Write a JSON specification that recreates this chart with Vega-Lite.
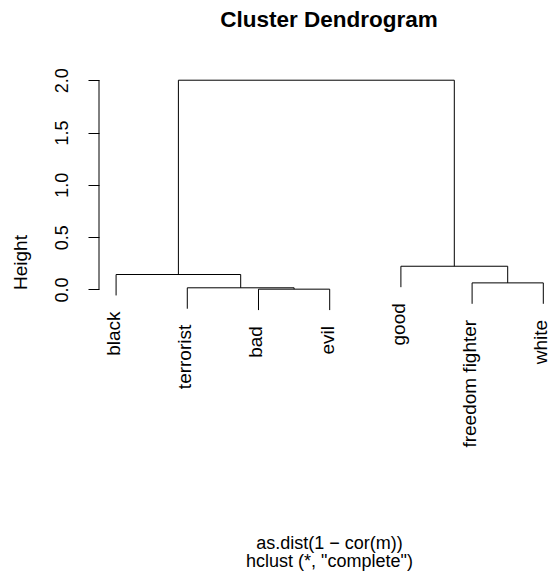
{
  "$schema": "https://vega.github.io/schema/vega-lite/v6.json",
  "autosize": {"type": "none"},
  "padding": {"left": 99, "top": 71, "right": 0, "bottom": 92},
  "width": 450,
  "height": 411,
  "background": "white",
  "config": {
    "view": {"stroke": null},
    "font": "Liberation Sans",
    "title": {"font": "Liberation Sans", "fontSize": 22.5, "fontWeight": "bold", "color": "black"}
  },
  "title": {"text": "Cluster Dendrogram", "anchor": "middle", "dx": 5, "baseline": "alphabetic", "offset": 18},
  "datasets": {
    "segments": [
      {"x": 3, "x2": 4, "y": 0.003, "y2": 0.003},
      {"x": 3, "x2": 3, "y": -0.197, "y2": 0.003},
      {"x": 4, "x2": 4, "y": -0.197, "y2": 0.003},
      {"x": 2, "x2": 3.5, "y": 0.016, "y2": 0.016},
      {"x": 2, "x2": 2, "y": -0.184, "y2": 0.016},
      {"x": 3.5, "x2": 3.5, "y": 0.003, "y2": 0.016},
      {"x": 1, "x2": 2.75, "y": 0.143, "y2": 0.143},
      {"x": 1, "x2": 1, "y": -0.057, "y2": 0.143},
      {"x": 2.75, "x2": 2.75, "y": 0.016, "y2": 0.143},
      {"x": 6, "x2": 7, "y": 0.063, "y2": 0.063},
      {"x": 6, "x2": 6, "y": -0.137, "y2": 0.063},
      {"x": 7, "x2": 7, "y": -0.137, "y2": 0.063},
      {"x": 5, "x2": 6.5, "y": 0.222, "y2": 0.222},
      {"x": 5, "x2": 5, "y": 0.022, "y2": 0.222},
      {"x": 6.5, "x2": 6.5, "y": 0.063, "y2": 0.222},
      {"x": 1.875, "x2": 5.75, "y": 2.0, "y2": 2.0},
      {"x": 1.875, "x2": 1.875, "y": 0.143, "y2": 2.0},
      {"x": 5.75, "x2": 5.75, "y": 0.222, "y2": 2.0}
    ],
    "leaves": [
      {"label": "black", "x": 1, "y": -0.057},
      {"label": "terrorist", "x": 2, "y": -0.184},
      {"label": "bad", "x": 3, "y": -0.197},
      {"label": "evil", "x": 4, "y": -0.197},
      {"label": "good", "x": 5, "y": 0.022},
      {"label": "freedom fighter", "x": 6, "y": -0.137},
      {"label": "white", "x": 7, "y": -0.137}
    ],
    "axisline": [{"x": 0.76, "y": 0, "y2": 2}]
  },
  "layer": [
    {
      "data": {"name": "segments"},
      "mark": {"type": "rule", "color": "black", "strokeWidth": 1},
      "encoding": {
        "x": {
          "field": "x", "type": "quantitative",
          "scale": {"domain": [0.76, 7.08], "nice": false, "zero": false},
          "axis": {
            "labels": false, "ticks": false, "domain": false, "grid": false,
            "title": ["as.dist(1 − cor(m))", "hclust (*, \"complete\")"],
            "titleFont": "Liberation Sans", "titleFontSize": 18, "titleFontWeight": "normal",
            "titleColor": "black", "titleX": 230, "titleAlign": "center",
            "titleBaseline": "alphabetic", "titlePadding": 66, "titleLineHeight": 18.5
          }
        },
        "x2": {"field": "x2"},
        "y": {
          "field": "y", "type": "quantitative",
          "scale": {"domain": [-1.84, 2.088], "nice": false, "zero": false},
          "axis": {
            "values": [0, 0.5, 1, 1.5, 2], "format": ".1f",
            "domain": false, "grid": false, "tickSize": 11, "tickColor": "black", "tickWidth": 1,
            "labelAngle": 270, "labelAlign": "center", "labelBaseline": "alphabetic", "labelPadding": 21,
            "labelFont": "Liberation Sans", "labelFontSize": 18, "labelColor": "black",
            "title": "Height", "titleFont": "Liberation Sans", "titleFontSize": 19, "titleFontWeight": "normal",
            "titleColor": "black", "titleX": -79, "titleY": 191, "titleAngle": 270,
            "titleAlign": "center", "titleBaseline": "middle"
          }
        },
        "y2": {"field": "y2"}
      }
    },
    {
      "data": {"name": "axisline"},
      "mark": {"type": "rule", "color": "black", "strokeWidth": 1},
      "encoding": {
        "x": {"field": "x", "type": "quantitative"},
        "y": {"field": "y", "type": "quantitative"},
        "y2": {"field": "y2"}
      }
    },
    {
      "data": {"name": "leaves"},
      "mark": {"type": "text", "angle": 270, "align": "right", "baseline": "middle", "dx": -16, "dy": -2, "fontSize": 19, "font": "Liberation Sans", "color": "black"},
      "encoding": {
        "x": {"field": "x", "type": "quantitative"},
        "y": {"field": "y", "type": "quantitative"},
        "text": {"field": "label"}
      }
    }
  ]
}
